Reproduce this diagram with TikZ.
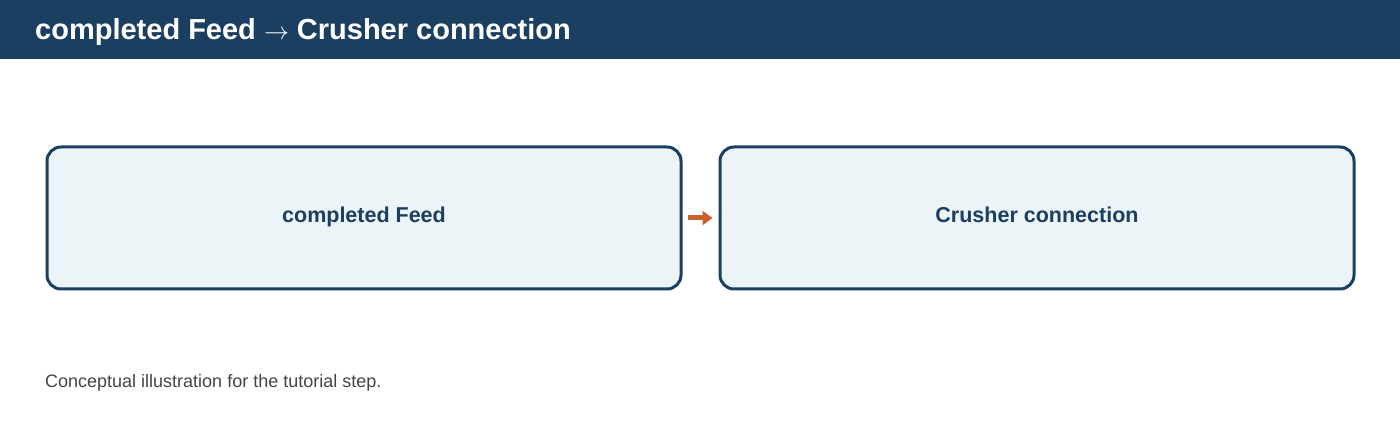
\documentclass[tikz,border=0pt]{standalone}
\usepackage{fontspec}
\setmainfont{Liberation Sans}
\usetikzlibrary{arrows.meta}
\definecolor{navy}{HTML}{1A3F60}
\definecolor{boxfill}{HTML}{EDF4F8}
\definecolor{arrowc}{HTML}{C8622A}
\definecolor{captc}{HTML}{444444}
\begin{document}
\begin{tikzpicture}[x=1pt,y=-1pt,
  stagebox/.style={draw=navy,line width=3pt,fill=boxfill,rounded corners=14pt,
    minimum width=634pt,minimum height=142pt,inner sep=0pt,
    text height=15.5pt,text depth=6pt,
    font=\fontsize{21.5}{25}\selectfont\bfseries,text=navy},
  flowarrow/.style={draw=arrowc,line width=5pt,-{Triangle[length=10pt,width=14pt]}}]
\useasboundingbox (0,0) rectangle (1400,430);
\fill[navy] (0,0) rectangle (1400,59);
\node[anchor=base west,text=white,inner sep=0pt,font=\fontsize{29}{34}\selectfont\bfseries] (title) at (35,40) {completed Feed $\rightarrow$ Crusher connection};
\node[stagebox] (feed) at (364,218) {completed Feed};
\node[stagebox] (crusher) at (1037,218) {Crusher connection};
\draw[flowarrow] ([xshift=5pt]feed.east) -- ([xshift=-6pt]crusher.west);
\node[anchor=base west,inner sep=0pt,text=captc,font=\fontsize{18}{21}\selectfont] (caption) at (45,387) {Conceptual illustration for the tutorial step.};
\end{tikzpicture}
\end{document}
